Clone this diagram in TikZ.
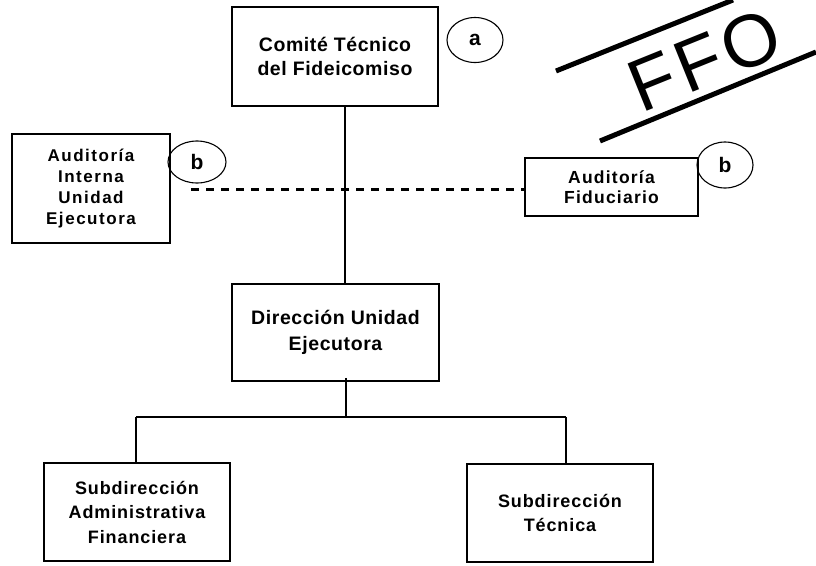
\documentclass[tikz,border=0pt]{standalone}
\usepackage{fontspec}
\setmainfont{Liberation Sans}
\usetikzlibrary{shapes.geometric}
\begin{document}
\begin{tikzpicture}[x=1pt,y=-1pt,
  box/.style={draw, line width=1.6pt, rectangle, align=center, inner sep=0pt},
  tag/.style={draw, line width=1.1pt, ellipse, inner sep=0pt,
    font=\bfseries\fontsize{21}{21}\selectfont},
  link/.style={line width=1.4pt},
  dotlink/.style={line width=3pt, dash pattern=on 8pt off 7pt}]
\useasboundingbox (0,0) rectangle (816,565);
% boxes
\node[box, minimum width=206pt, minimum height=99pt,
  font=\bfseries\fontsize{19.5}{24}\selectfont\addfontfeatures{LetterSpace=3}] (ctf) at (335,56.5)
  {Comité Técnico\\del Fideicomiso};
\node[box, minimum width=158pt, minimum height=109pt,
  font=\bfseries\fontsize{17}{21}\selectfont\addfontfeatures{LetterSpace=9}] (aiue) at (91,188.5)
  {Auditoría\\Interna\\Unidad\\Ejecutora};
\node[box, minimum width=173pt, minimum height=58pt,
  font=\bfseries\fontsize{17.5}{20}\selectfont\addfontfeatures{LetterSpace=7}] (af) at (611.5,187)
  {Auditoría\\Fiduciario};
\node[box, minimum width=207pt, minimum height=97pt,
  font=\bfseries\fontsize{19.5}{26}\selectfont\addfontfeatures{LetterSpace=3}] (due) at (335.5,332.5)
  {Dirección Unidad\\Ejecutora};
\node[box, minimum width=186pt, minimum height=98pt,
  font=\bfseries\fontsize{18}{24.5}\selectfont\addfontfeatures{LetterSpace=5}] (sdaf) at (137,512)
  {Subdirección\\Administrativa\\Financiera};
\node[box, minimum width=186pt, minimum height=98pt,
  font=\bfseries\fontsize{18}{24.5}\selectfont\addfontfeatures{LetterSpace=5}] (sdt) at (560,513)
  {Subdirección\\Técnica};
% tags
\node[tag, minimum width=56pt, minimum height=45pt] (ta) at (475,40) {a};
\node[tag, minimum width=58pt, minimum height=42pt] (tb1) at (197,162) {b};
\node[tag, minimum width=56pt, minimum height=46pt] (tb2) at (725,165) {b};
% connectors
\coordinate (trunk) at (345,0);
\coordinate (lowtrunk) at (346,417);
\coordinate (dashstart) at (191,189.5);
\coordinate (barL) at (136,417);
\coordinate (barR) at (566,417);
\draw[link] (ctf.south -| trunk) -- (due.north -| trunk);
\draw[link] ([yshift=4pt]due.south -| lowtrunk) -- (lowtrunk);
\draw[link] (barL) -- (barR);
\draw[link] (barL) -- (sdaf.north -| barL);
\draw[link] (barR) -- (sdt.north -| barR);
\draw[dotlink] (dashstart) -- (af.west |- dashstart);
% FFO stamp
\coordinate (s1a) at (556,71);
\coordinate (s1b) at (733,0);
\coordinate (s2a) at (600,141);
\coordinate (s2b) at (816,52);
\draw[line width=5pt] (s1a) -- (s1b);
\draw[line width=5pt] (s2a) -- (s2b);
\node[rotate=22, inner sep=0pt, anchor=base west,
  font=\fontsize{74}{74}\selectfont\addfontfeatures{LetterSpace=6}] (ffo) at (641.6,113.2) {FFO};
\end{tikzpicture}
\end{document}
